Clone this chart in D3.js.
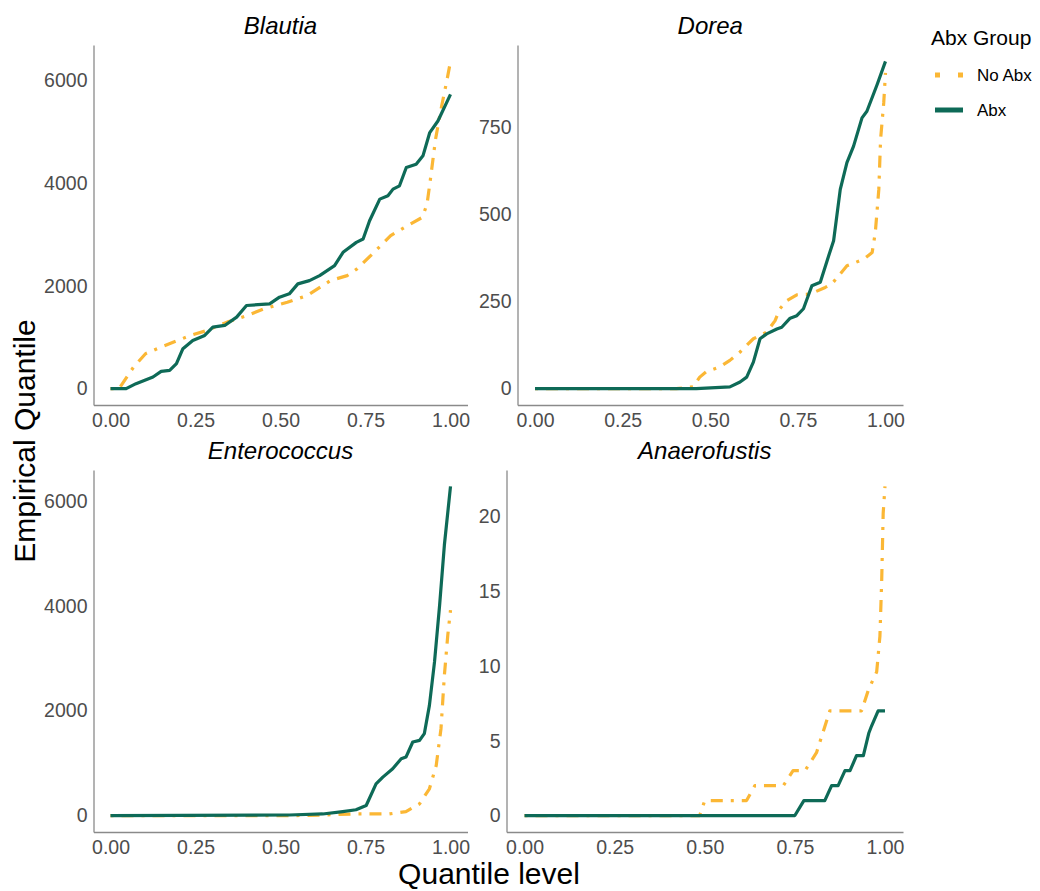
<!DOCTYPE html>
<html>
<head>
<meta charset="utf-8">
<script src="https://cdn.jsdelivr.net/npm/d3@7"></script>
<style>
  html, body { margin: 0; padding: 0; background: #ffffff; }
  svg { display: block; font-family: "Liberation Sans", Arial, sans-serif; }
</style>
</head>
<body>
<svg id="chart" width="1040" height="891"></svg>
<script>
// ---------------- DATA ----------------
const genera = ["Blautia", "Dorea", "Enterococcus", "Anaerofustis"];
const groups = ["No Abx", "Abx"];
const xTicks = [0, 0.25, 0.5, 0.75, 1];

const blautiaTicks = [0, 2000, 4000, 6000];
const doreaTicks = [0, 250, 500, 750];
const enteroTicks = [0, 2000, 4000, 6000];
const anaeroTicks = [0, 5, 10, 15, 20];

// Blautia
const blautiaNoAbxQ = [0, 0.025, 0.068, 0.103, 0.137, 0.186, 0.235, 0.284, 0.343, 0.402, 0.451, 0.520, 0.578, 0.647, 0.696, 0.725, 0.775, 0.824, 0.873, 0.917, 0.931, 0.941, 0.956, 0.971, 0.990, 1.0];
const blautiaNoAbxV = [0, 0, 421, 680, 777, 906, 1035, 1132, 1295, 1424, 1553, 1683, 1812, 2103, 2200, 2330, 2653, 2977, 3171, 3333, 3592, 4078, 4854, 5404, 6019, 6370];
const blautiaAbxQ = [0, 0.046, 0.075, 0.125, 0.149, 0.174, 0.194, 0.213, 0.242, 0.277, 0.301, 0.336, 0.371, 0.400, 0.468, 0.497, 0.526, 0.551, 0.585, 0.615, 0.659, 0.684, 0.723, 0.743, 0.762, 0.792, 0.816, 0.831, 0.850, 0.870, 0.899, 0.919, 0.939, 0.963, 1.0];
const blautiaAbxV = [0, 0, 97, 227, 336, 356, 485, 777, 938, 1035, 1197, 1230, 1392, 1618, 1650, 1780, 1845, 2039, 2103, 2200, 2394, 2653, 2847, 2912, 3268, 3689, 3754, 3883, 3948, 4304, 4369, 4531, 4984, 5210, 5728];

// Dorea
const doreaNoAbxQ = [0, 0.403, 0.451, 0.470, 0.489, 0.527, 0.556, 0.585, 0.623, 0.661, 0.685, 0.699, 0.718, 0.747, 0.785, 0.828, 0.847, 0.890, 0.938, 0.962, 0.971, 0.981, 0.986, 0.995, 1.0];
const doreaNoAbxV = [0, 0, 5, 33, 49, 62, 81, 105, 143, 162, 195, 229, 252, 269, 271, 290, 300, 352, 371, 390, 448, 571, 714, 819, 905];
const doreaAbxQ = [0, 0.46, 0.556, 0.585, 0.604, 0.623, 0.642, 0.661, 0.690, 0.704, 0.728, 0.747, 0.766, 0.790, 0.814, 0.838, 0.852, 0.871, 0.890, 0.909, 0.933, 0.947, 0.976, 1.0];
const doreaAbxV = [0, 0, 5, 19, 33, 76, 143, 157, 171, 176, 202, 209, 229, 295, 305, 381, 424, 571, 648, 695, 776, 795, 871, 938];

// Enterococcus
const enteroNoAbxQ = [0, 0.545, 0.624, 0.722, 0.820, 0.869, 0.909, 0.938, 0.958, 0.972, 0.982, 0.992, 1.0];
const enteroNoAbxV = [0, 0, 10, 30, 30, 76, 223, 510, 955, 1656, 2674, 3439, 3916];
const enteroAbxQ = [0, 0.526, 0.624, 0.683, 0.722, 0.752, 0.781, 0.801, 0.830, 0.855, 0.869, 0.889, 0.909, 0.923, 0.938, 0.953, 0.968, 0.982, 1.0];
const enteroAbxV = [0, 10, 30, 76, 110, 191, 605, 733, 892, 1083, 1115, 1402, 1433, 1561, 2101, 2930, 4012, 5158, 6275];

// Anaerofustis
const anaeroNoAbxQ = [0, 0.486, 0.5, 0.616, 0.639, 0.718, 0.745, 0.778, 0.810, 0.847, 0.866, 0.935, 0.954, 0.977, 0.986, 0.991, 0.995, 1.0];
const anaeroNoAbxV = [0, 0, 1, 1, 2, 2, 3, 3, 4.2, 7, 7, 7, 8.4, 9.6, 12, 15.8, 20.2, 22];
const anaeroAbxQ = [0, 0.75, 0.775, 0.833, 0.852, 0.870, 0.889, 0.903, 0.921, 0.940, 0.955, 0.963, 0.981, 1.0];
const anaeroAbxV = [0, 0, 1, 1, 2, 2, 3, 3, 4, 4, 5.5, 6, 7, 7];

// ---------------- BUILD ----------------
const zip = (q, v) => q.map((d, i) => ({ q: d, v: v[i] }));
const series = {
  "Blautia":      { ticks: blautiaTicks, "No Abx": zip(blautiaNoAbxQ, blautiaNoAbxV), "Abx": zip(blautiaAbxQ, blautiaAbxV) },
  "Dorea":        { ticks: doreaTicks,   "No Abx": zip(doreaNoAbxQ, doreaNoAbxV),     "Abx": zip(doreaAbxQ, doreaAbxV) },
  "Enterococcus": { ticks: enteroTicks,  "No Abx": zip(enteroNoAbxQ, enteroNoAbxV),   "Abx": zip(enteroAbxQ, enteroAbxV) },
  "Anaerofustis": { ticks: anaeroTicks,  "No Abx": zip(anaeroNoAbxQ, anaeroNoAbxV),   "Abx": zip(anaeroAbxQ, anaeroAbxV) }
};

const colors = { "No Abx": "#FBB735", "Abx": "#0E6A57" };
const dashes = { "No Abx": "3,8,12,8", "Abx": null };

const layout = [
  { left: 93.5, right: 467.5, top: 45, bottom: 405 },
  { left: 517.5, right: 903, top: 45, bottom: 405 },
  { left: 93.5, right: 467.5, top: 470, bottom: 832 },
  { left: 506.5, right: 903, top: 470, bottom: 832 }
];

const svg = d3.select("#chart");
const axisColor = "#8a8a8a";
const tickColor = "#4d4d4d";

genera.forEach((g, i) => {
  const L = layout[i];
  const s = series[g];
  const allV = groups.flatMap(k => s[k].map(d => d.v));
  const vmin = d3.min(allV), vmax = d3.max(allV);
  const pad = (vmax - vmin) * 0.05;
  const x = d3.scaleLinear().domain([-0.05, 1.05]).range([L.left, L.right]);
  const y = d3.scaleLinear().domain([vmin - pad, vmax + pad]).range([L.bottom, L.top]);

  const panel = svg.append("g");

  // lines
  const line = d3.line().x(d => x(d.q)).y(d => y(d.v)).curve(d3.curveLinear);
  groups.forEach(k => {
    panel.append("path")
      .datum(s[k])
      .attr("d", line)
      .attr("fill", "none")
      .attr("stroke", colors[k])
      .attr("stroke-width", 3.2)
      .attr("stroke-linejoin", "round")
      .attr("stroke-dasharray", dashes[k]);
  });

  // axes
  const yAxis = d3.axisLeft(y).tickValues(s.ticks).tickSize(0).tickPadding(6).tickFormat(d3.format("d"));
  const gy = panel.append("g").attr("transform", `translate(${L.left},0)`).call(yAxis);
  gy.select(".domain").attr("stroke", axisColor).attr("stroke-width", 1.3);
  gy.selectAll("text").attr("fill", tickColor).style("font-size", "19.5px");

  const xAxis = d3.axisBottom(x).tickValues(xTicks).tickSize(0).tickPadding(8).tickFormat(d3.format(".2f"));
  const gx = panel.append("g").attr("transform", `translate(0,${L.bottom})`).call(xAxis);
  gx.select(".domain").attr("stroke", axisColor).attr("stroke-width", 1.3);
  gx.selectAll("text").attr("fill", tickColor).style("font-size", "19.5px");

  // strip title
  panel.append("text")
    .attr("x", (L.left + L.right) / 2)
    .attr("y", L.top - 11)
    .attr("text-anchor", "middle")
    .style("font-size", "24px")
    .style("font-style", "italic")
    .attr("fill", "#000")
    .text(g);
});

// axis titles
svg.append("text")
  .attr("x", 489).attr("y", 884)
  .attr("text-anchor", "middle")
  .style("font-size", "30px")
  .attr("fill", "#000")
  .text("Quantile level");

svg.append("text")
  .attr("transform", "translate(35,441) rotate(-90)")
  .attr("text-anchor", "middle")
  .style("font-size", "30px")
  .attr("fill", "#000")
  .text("Empirical Quantile");

// legend
const leg = svg.append("g");
leg.append("text").attr("x", 931).attr("y", 45)
  .style("font-size", "21px").attr("fill", "#000").text("Abx Group");
groups.forEach((k, i) => {
  const yy = 75 + i * 35;
  leg.append("line")
    .attr("x1", 935).attr("x2", 963).attr("y1", yy).attr("y2", yy)
    .attr("stroke", colors[k]).attr("stroke-width", 5)
    .attr("stroke-dasharray", k === "No Abx" ? "5,18" : null);
  leg.append("text").attr("x", 977).attr("y", yy + 6)
    .style("font-size", "17px").attr("fill", "#000").text(k);
});
</script>
</body>
</html>
